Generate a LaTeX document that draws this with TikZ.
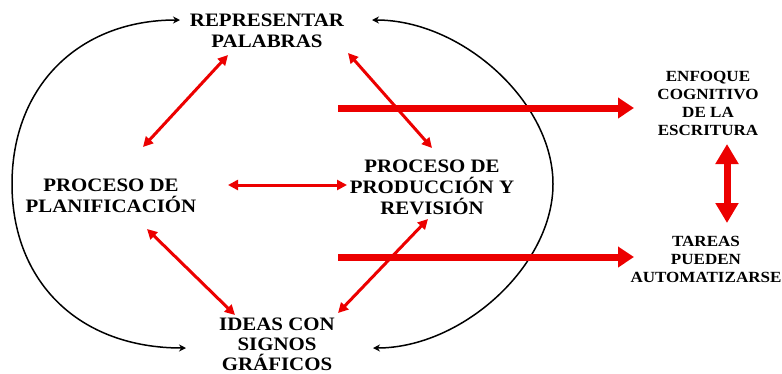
\documentclass[tikz,border=0pt]{standalone}
\usepackage{fontspec}
\setmainfont{Liberation Serif}[FakeStretch=1.1]
\usetikzlibrary{arrows.meta}
\definecolor{myred}{RGB}{236,0,0}
\tikzset{
  lbl/.style={font=\fontsize{19}{21}\selectfont\bfseries, align=center, inner sep=0pt},
  lbls/.style={font=\fontsize{15.5}{18}\selectfont\bfseries, align=center, inner sep=0pt},
  thinred/.style={draw=myred, line width=3pt, {Triangle[length=10pt,width=10pt]}-{Triangle[length=10pt,width=10pt]}},
  thickred/.style={draw=myred, line width=7pt, -{Triangle[length=16pt,width=20pt]}},
  thickdbl/.style={draw=myred, line width=7pt, {Triangle[length=20pt,width=22pt]}-{Triangle[length=20pt,width=22pt]}},
  blackarc/.style={draw=black, line width=1.5pt, {Stealth[length=7pt,width=7pt]}-{Stealth[length=7pt,width=7pt]}}
}
\begin{document}
\begin{tikzpicture}[x=1pt,y=-1pt]
\useasboundingbox (0,0) rectangle (782,373);
% labels
\node[lbl] (rep) at (267,31) {REPRESENTAR\\PALABRAS};
\node[lbl] (plan) at (111,196) {PROCESO DE\\PLANIFICACIÓN};
\node[lbl] (prod) at (432,187) {PROCESO DE\\PRODUCCIÓN Y\\REVISIÓN};
\node[lbl, font=\fontsize{19}{20}\selectfont\bfseries] (ideas) at (277,344) {IDEAS CON\\SIGNOS\\GRÁFICOS};
\node[lbls] (enf) at (708,103) {ENFOQUE\\COGNITIVO\\DE LA\\ESCRITURA};
\node[lbls] (tar) at (706,259) {TAREAS\\PUEDEN\\AUTOMATIZARSE};
% connector endpoints
\coordinate (repL) at (228,55);
\coordinate (repR) at (348,53);
\coordinate (planT) at (143,147);
\coordinate (planR) at (228,185);
\coordinate (planB) at (147,229);
\coordinate (prodL) at (347,185);
\coordinate (prodT) at (432,148);
\coordinate (prodB) at (428,219);
\coordinate (ideasL) at (235,315);
\coordinate (ideasR) at (338,313);
\coordinate (repAL) at (180,20);
\coordinate (repAR) at (372,20);
\coordinate (ideasAL) at (186,348);
\coordinate (ideasAR) at (373,348);
\coordinate (s1) at (338,108);
\coordinate (s2) at (338,257);
\coordinate (enfW) at (634,108);
\coordinate (tarW) at (634,257);
\coordinate (enfS) at (727,144);
\coordinate (tarN) at (727,223);
% black arcs
\draw[blackarc] (repAL) .. controls (79,20) and (12,86) .. (12,184)
                .. controls (12,282) and (79,348) .. (ideasAL);
\draw[blackarc] (repAR) .. controls (462,20) and (553,102) .. (553,184)
                .. controls (553,266) and (462,348) .. (ideasAR);
% thin red arrows
\draw[thinred] (planT) -- (repL);
\draw[thinred] (repR) -- (prodT);
\draw[thinred] (planR) -- (prodL);
\draw[thinred] (planB) -- (ideasL);
\draw[thinred] (ideasR) -- (prodB);
% thick red arrows
\draw[thickred] (s1) -- (enfW);
\draw[thickred] (s2) -- (tarW);
\draw[thickdbl] (enfS) -- (tarN);
\end{tikzpicture}
\end{document}
